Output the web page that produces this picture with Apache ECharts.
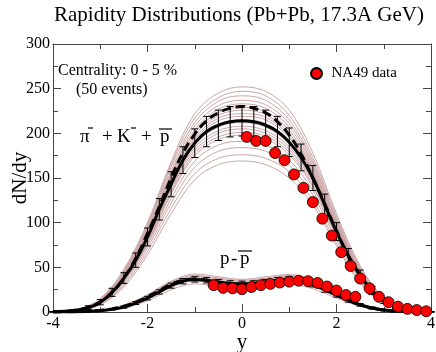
<!DOCTYPE html>
<html><head><meta charset="utf-8">
<script src="https://cdn.jsdelivr.net/npm/echarts@6/dist/echarts.min.js"></script>
<style>html,body{margin:0;padding:0;background:#fff}#c{width:436px;height:352px}</style>
</head><body><div id="c"></div>
<script>
// model grid (rapidity)
const xGrid = [-4,-3.75,-3.5,-3.25,-3,-2.75,-2.5,-2.25,-2,-1.75,-1.5,-1.25,-1,-0.75,-0.5,-0.25,0,0.25,0.5,0.75,1,1.25,1.5,1.75,2,2.25,2.5,2.75,3,3.25,3.5,3.75,4];
// pi- + K- + pbar : mean over events (solid), other model (dashed), error bars
const upperMean = [0.3,0.8,2,5,11,22,38,58,84,115,143,170,189,202,209,213,214,213,209,202,190,173,150,120,90,63,41,24,12.5,6,2.5,1,0.3];
const upperDash = [0.3,0.8,2,5,11.5,22,38,60,88,118,150,178,199,214,223,228,230,228,223,213,198,177,150,121,91,63,41,24,12.5,5.5,2.3,0.8,0.3];
const upperErr  = [0.3,0.5,1,2,3,4.5,6,8,10,12,14,15,16,17,17,17,17,17,17,17,16,15,14,12,10,8,6,4.5,3,2,1,0.5,0.3];
// p - pbar
const lowerMean = [0,0.1,0.3,0.8,1.5,3,5.5,10,15.5,22.5,29.5,34.5,36.5,35.5,33.5,32,31.5,32,33.5,35.5,36.5,35,31,25,19,13,8,4.5,2.2,1,0.4,0.1,0];
const lowerDash = [0,0.1,0.3,0.9,1.8,3.5,6.5,11,17,24,31,35.5,37,35.5,33,31.5,31,31.5,33,35.5,37,36,32,26,19.5,13,8,4.5,2.2,1,0.4,0.1,0];
const lowerErr  = [0,0.1,0.2,0.4,0.6,0.9,1.2,1.6,2,2.4,2.8,3,3,3,3,3,3,3,3,3,3,3,3,2.8,2.4,2,1.5,1.2,0.8,0.5,0.3,0.1,0];

// individual events (thin lines)
const eventX = [-4,-3.5,-3,-2.5,-2,-1.5,-1,-0.5,0,0.5,1,1.5,2,2.5,3,3.5,4];
const upperEvents = [
  [0.4,3,15,48,100,168,222,245,252,247,226,178,110,52,16,3,0.4],
  [0.4,2.8,14,46,98,165,217,240,247,242,220,173,107,50,15.5,3,0.3],
  [0.3,2.6,13,45,96,162,212,236,242,237,215,169,104,48,15,3,0.3],
  [0.3,2.5,13,44,94,158,208,231,237,232,211,166,102,47,14.5,2.9,0.3],
  [0.3,2.3,12,43,92,155,204,227,233,228,207,163,100,46,14,2.8,0.3],
  [0.3,2.3,12,42,90,153,201,223,229,224,203,160,98,45,13.5,2.7,0.3],
  [0.3,2.2,12,41,89,151,198,220,226,221,200,158,97,45,13,2.6,0.3],
  [0.3,2.1,11.5,40,87,148,195,217,222,218,197,156,96,44,13,2.5,0.3],
  [0.3,2,11,39,86,146,193,214,219,215,195,155,95,44,13,2.5,0.3],
  [0.3,2,11,38.5,84,143,190,210,215,211,191,152,93,43,12.5,2.4,0.3],
  [0.3,2,11,38,83,141,187,207,212,207,188,150,92,42,12,2.4,0.3],
  [0.2,1.9,10.5,37,81,139,184,203,208,203,185,147,90,41,12,2.3,0.2],
  [0.2,1.9,10,36,80,137,181,200,205,200,182,145,89,40,12,2.3,0.2],
  [0.2,1.8,10,35.5,78,134,178,196,201,197,179,142,87,39.5,11.5,2.2,0.2],
  [0.2,1.8,10,35,77,132,175,193,198,194,176,140,86,39,11,2.2,0.2],
  [0.2,1.7,9.5,34,75,127,169,187,191,187,170,136,84,38,11,2.1,0.2],
  [0.2,1.6,9,32,72,122,162,180,184,180,164,131,81,36,10,2,0.2],
  [0.2,1.5,8.5,30,68,116,155,172,176,172,157,125,77,34,10,1.9,0.2],
  [0.2,1.4,8,28,64,110,148,165,169,165,150,120,74,32,9.5,1.8,0.2]
];
const lowerEvents = [
  [0,0.4,2.1,7.8,19.5,34.5,42.5,39.5,36.5,39.5,42,36,23,10,3,0.5,0],
  [0,0.4,1.9,7.3,18.5,33.5,41,38,35.5,38,41,35,22,9.5,2.8,0.5,0],
  [0,0.35,1.8,7,18,32.5,40,37,34.5,37,40,34,21.5,9,2.6,0.5,0],
  [0,0.3,1.6,6.4,16.8,31,38.5,35.5,33,35.5,38.5,32.5,20.5,8.5,2.4,0.4,0],
  [0,0.3,1.5,6,16,30,37.5,34.5,32,34.5,37.5,31.5,19.5,8,2.2,0.4,0],
  [0,0.25,1.3,5.2,14,27.5,34.5,31.5,29.5,31.5,34,28.5,17,7,1.9,0.3,0],
  [0,0.2,1.1,4.5,12.5,25,31.5,29,27,29,31,26,15.5,6.2,1.6,0.3,0]
];

// NA49 data
const na49UpperX = [0.1,0.3,0.5,0.7,0.9,1.1,1.3,1.5,1.7,1.9,2.1,2.3,2.5,2.7,2.9,3.1,3.3,3.5,3.7,3.9];
const na49UpperY = [196,191.5,191.5,178,170,154,139,123,104.5,85.5,67,51.5,37.5,26.5,17,11,6,3.5,2.2,0.8];
const na49LowerX = [-0.6,-0.4,-0.2,0,0.2,0.4,0.6,0.8,1.0,1.2,1.4,1.6,1.8,2.0,2.2,2.4];
const na49LowerY = [30,27,26.5,25.5,28,30,31.5,33,34,35,34.5,32.5,28.5,24,19,17];

const xTicks = [-4,-2,0,2,4];
const yTicks = [0,50,100,150,200,250,300];

const FONT = '"Liberation Serif", "DejaVu Serif", serif';
const zip = (xs, ys) => xs.map((x, i) => [x, ys[i]]);
const errData = (m, e) => xGrid.map((x, i) => [x, m[i] - e[i], m[i] + e[i]]);

const series = [];
upperEvents.concat(lowerEvents).forEach(ev => series.push({
  type: 'line', data: zip(eventX, ev), smooth: 0.35, symbol: 'none', silent: true,
  lineStyle: { color: '#c59c9c', width: 0.9 }, z: 1
}));
[upperDash, lowerDash].forEach(d => series.push({
  type: 'line', data: zip(xGrid, d), smooth: true, symbol: 'none',
  lineStyle: { color: '#000', width: 3, type: [9, 5] }, z: 3
}));
[upperMean, lowerMean].forEach(d => series.push({
  type: 'line', data: zip(xGrid, d), smooth: true, symbol: 'none',
  lineStyle: { color: '#000', width: 3 }, z: 4
}));
function renderErr(params, api) {
  const x = api.value(0);
  const p1 = api.coord([x, api.value(1)]);
  const p2 = api.coord([x, api.value(2)]);
  const w = 3.5;
  const st = { stroke: '#000', lineWidth: 1 };
  return { type: 'group', children: [
    { type: 'line', shape: { x1: p1[0], y1: p1[1], x2: p2[0], y2: p2[1] }, style: st },
    { type: 'line', shape: { x1: p1[0] - w, y1: p1[1], x2: p1[0] + w, y2: p1[1] }, style: st },
    { type: 'line', shape: { x1: p2[0] - w, y1: p2[1], x2: p2[0] + w, y2: p2[1] }, style: st }
  ]};
}
series.push({ type: 'custom', renderItem: renderErr, data: errData(upperMean, upperErr), z: 5 });
series.push({ type: 'custom', renderItem: renderErr, data: errData(lowerMean, lowerErr), z: 5 });
const scatterStyle = { color: '#ff0000', borderColor: '#000', borderWidth: 0.8, opacity: 1 };
series.push({ name: 'NA49 data', type: 'scatter', data: zip(na49UpperX, na49UpperY), symbol: 'circle', symbolSize: 11, itemStyle: scatterStyle, z: 10 });
series.push({ name: 'NA49 data', type: 'scatter', data: zip(na49LowerX, na49LowerY), symbol: 'circle', symbolSize: 11, itemStyle: scatterStyle, z: 10 });

const axisCommon = {
  axisLine: { show: true, onZero: false, lineStyle: { color: '#444', width: 1 } },
  axisTick: { show: true, inside: true, length: 8, lineStyle: { color: '#444' } },
  minorTick: { show: true, splitNumber: 2, length: 5, lineStyle: { color: '#444' } },
  splitLine: { show: false }
};
const labelStyle = { fontFamily: FONT, fontSize: 16, color: '#000' };

const chart = echarts.init(document.getElementById('c'), null, { renderer: 'canvas' });
chart.setOption({
  animation: false,
  backgroundColor: '#fff',
  title: { text: 'Rapidity Distributions (Pb+Pb, 17.3A GeV)', left: 49, top: 0,
    textStyle: { fontFamily: FONT, fontSize: 21, fontWeight: 'normal', color: '#000' } },
  grid: { left: 53, right: 5, top: 44, bottom: 40, containLabel: false, outerBoundsMode: 'none' },
  legend: { data: ['NA49 data'], left: 310, top: 66, padding: 0, icon: 'circle', itemWidth: 20, itemHeight: 11,
    textStyle: { fontFamily: FONT, fontSize: 15, color: '#000' }, selectedMode: false },
  xAxis: [
    Object.assign({ type: 'value', min: xTicks[0], max: xTicks[xTicks.length - 1], interval: 2, position: 'bottom',
      axisLabel: Object.assign({ margin: 4 }, labelStyle),
      name: 'y', nameLocation: 'middle', nameGap: 20, nameMoveOverlap: false,
      nameTextStyle: { fontFamily: FONT, fontSize: 21, color: '#000' } }, axisCommon),
    Object.assign({ type: 'value', min: xTicks[0], max: xTicks[xTicks.length - 1], interval: 2, position: 'top',
      axisLabel: { show: false } }, axisCommon)
  ],
  yAxis: [
    Object.assign({ type: 'value', min: yTicks[0], max: yTicks[yTicks.length - 1], interval: 50, position: 'left',
      axisLabel: Object.assign({ margin: 3 }, labelStyle),
      name: 'dN/dy', nameLocation: 'middle', nameGap: 22, nameRotate: 90, nameMoveOverlap: false,
      nameTextStyle: { fontFamily: FONT, fontSize: 21, color: '#000' } }, axisCommon),
    Object.assign({ type: 'value', min: yTicks[0], max: yTicks[yTicks.length - 1], interval: 50, position: 'right',
      axisLabel: { show: false } }, axisCommon)
  ],
  graphic: [
    { type: 'text', left: 58, top: 63, style: { text: 'Centrality: 0 - 5 %', font: '16px ' + FONT, fill: '#000' } },
    { type: 'text', left: 76, top: 82, style: { text: '(50 events)', font: '16px ' + FONT, fill: '#000' } },
    { type: 'text', left: 80, top: 128, style: { text: 'π', font: '19px ' + FONT, fill: '#000' } },
    { type: 'line', shape: { x1: 88, y1: 128, x2: 93, y2: 128 }, style: { stroke: '#000', lineWidth: 1.2 } },
    { type: 'text', left: 102, top: 128, style: { text: '+', font: '19px ' + FONT, fill: '#000' } },
    { type: 'text', left: 117, top: 128, style: { text: 'K', font: '19px ' + FONT, fill: '#000' } },
    { type: 'line', shape: { x1: 131, y1: 128, x2: 136, y2: 128 }, style: { stroke: '#000', lineWidth: 1.2 } },
    { type: 'text', left: 141, top: 128, style: { text: '+', font: '19px ' + FONT, fill: '#000' } },
    { type: 'text', left: 160, top: 128, style: { text: 'p', font: '19px ' + FONT, fill: '#000' } },
    { type: 'line', shape: { x1: 159, y1: 129, x2: 172, y2: 129 }, style: { stroke: '#000', lineWidth: 1.2 } },
    { type: 'text', left: 220, top: 250, style: { text: 'p', font: '19px ' + FONT, fill: '#000' } },
    { type: 'text', left: 231, top: 250, style: { text: '-', font: '19px ' + FONT, fill: '#000' } },
    { type: 'text', left: 240, top: 250, style: { text: 'p', font: '19px ' + FONT, fill: '#000' } },
    { type: 'line', shape: { x1: 238, y1: 251, x2: 252, y2: 251 }, style: { stroke: '#000', lineWidth: 1.2 } }
  ],
  series: series
});
</script></body></html>
